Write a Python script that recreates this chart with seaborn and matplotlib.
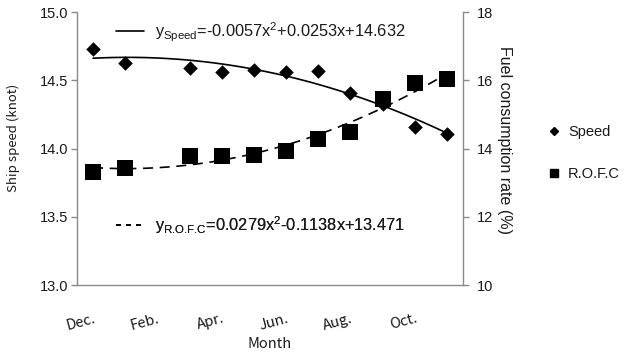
import numpy as np
import pandas as pd
import matplotlib
matplotlib.use('Agg')
import matplotlib.pyplot as plt
import seaborn as sns
from matplotlib.lines import Line2D

# ---- data ----
month_idx = [1, 2, 4, 5, 6, 7, 8, 9, 10, 11, 12]          # Dec=1 ... Nov=12 (Feb missing)
speed = [14.73, 14.63, 14.59, 14.56, 14.575, 14.56, 14.57, 14.41, 14.33, 14.16, 14.11]
rofc = [13.32, 13.43, 13.78, 13.78, 13.81, 13.93, 14.28, 14.49, 15.45, 15.92, 16.04]

tick_pos = [1, 3, 5, 7, 9, 11]
tick_labels = ['Dec.', 'Feb.', 'Apr.', 'Jun.', 'Aug.', 'Oct.']

eq_speed = r'$y_{\text{Speed}}$=-0.0057x$^{2}$+0.0253x+14.632'
eq_rofc = r'$y_{\text{R.O.F.C}}$=0.0279x$^{2}$-0.1138x+13.471'

df = pd.DataFrame({'month': month_idx, 'speed': speed, 'rofc': rofc})

# ---- style ----
sns.set_theme(style='white')
plt.rcParams['font.family'] = ['Liberation Sans', 'DejaVu Sans']
plt.rcParams['mathtext.fontset'] = 'custom'
plt.rcParams['mathtext.rm'] = 'Liberation Sans'
plt.rcParams['mathtext.it'] = 'Liberation Sans'
plt.rcParams['mathtext.bf'] = 'Liberation Sans'

spine_col = '#8a8a8a'
txt_col = '#1a1a1a'
jp_font = ['Noto Sans CJK JP', 'DejaVu Sans']

fig = plt.figure(figsize=(6.29, 3.56), dpi=100)
ax = fig.add_axes([0.1224, 0.1994, 0.6137, 0.7666])
ax2 = ax.twinx()

# speed (left axis)
sns.scatterplot(data=df, x='month', y='speed', marker='D', color='black',
                s=55, edgecolor='black', linewidth=0, ax=ax, zorder=3)
sns.regplot(data=df, x='month', y='speed', order=2, ci=None, scatter=False,
            color='black', line_kws={'lw': 1.2}, ax=ax)

# fuel consumption rate (right axis)
sns.scatterplot(data=df, x='month', y='rofc', marker='s', color='black',
                s=125, edgecolor='black', linewidth=0, ax=ax2, zorder=3)
sns.regplot(data=df, x='month', y='rofc', order=2, ci=None, scatter=False,
            color='black', line_kws={'lw': 1.2, 'dashes': (6, 4)}, ax=ax2)

ax.set_xlim(0.5, 12.5)
ax.set_ylim(13.0, 15.0)
ax2.set_ylim(10, 18)
ax.set_yticks([13.0, 13.5, 14.0, 14.5, 15.0])
ax.set_yticklabels(['13.0', '13.5', '14.0', '14.5', '15.0'])
ax2.set_yticks([10, 12, 14, 16, 18])

ax.set_xticks(tick_pos)
ax.set_xticklabels(tick_labels, rotation=15, ha='right', rotation_mode='anchor',
                   family=jp_font, fontsize=10.5)
ax.tick_params(axis='x', length=0, pad=19, colors=txt_col)
ax.tick_params(axis='y', length=4, width=1, color=spine_col, labelsize=10.5,
               labelcolor=txt_col, pad=2)
ax2.tick_params(axis='y', length=4, width=1, color=spine_col, labelsize=10.5,
                labelcolor=txt_col, pad=6)

for a in (ax, ax2):
    a.spines['top'].set_visible(False)
    for s in ('left', 'bottom', 'right'):
        a.spines[s].set_color(spine_col)
        a.spines[s].set_linewidth(1.0)
ax.spines['right'].set_visible(False)
ax2.spines['left'].set_visible(False)
ax2.spines['bottom'].set_visible(False)

ax.set_xlabel('Month', family=jp_font, fontsize=10.5, color=txt_col, labelpad=3)
ax.set_ylabel('Ship speed (knot)', family=jp_font, fontsize=9.5, color=txt_col, labelpad=9)
ax2.set_ylabel('Fuel consumption rate (%)', fontsize=11.5,
               color=txt_col, rotation=-90, labelpad=14)
ax.yaxis.set_label_coords(-0.147, 0.54)
ax2.yaxis.set_label_coords(1.127, 0.53)

# equation legends
leg1 = ax2.legend(handles=[Line2D([], [], color='black', lw=1.2)], labels=[eq_speed],
                  loc='center left', bbox_to_anchor=(0.1, 0.927), frameon=False,
                  fontsize=11.8, handlelength=1.75, handletextpad=0.65,
                  borderpad=0, borderaxespad=0, labelcolor=txt_col)
ax2.add_artist(leg1)
leg2 = ax2.legend(handles=[Line2D([], [], color='black', lw=1.2, dashes=(3, 3))],
                  labels=[eq_rofc], loc='center left', bbox_to_anchor=(0.1, 0.22),
                  frameon=False, fontsize=11.8, handlelength=1.75, handletextpad=0.65,
                  borderpad=0, borderaxespad=0, labelcolor=txt_col)
ax2.add_artist(leg2)

# series legend outside on the right
series_handles = [
    Line2D([], [], marker='D', color='black', ls='none', markersize=4),
    Line2D([], [], marker='s', color='black', ls='none', markersize=6),
]
fig.legend(handles=series_handles, labels=['Speed', 'R.O.F.C'], loc='center left',
           bbox_to_anchor=(0.85, 0.57), frameon=False, fontsize=10.5,
           labelspacing=1.9, handlelength=0.8, handletextpad=0.6, labelcolor=txt_col)

fig.savefig('out.png', dpi=100)
